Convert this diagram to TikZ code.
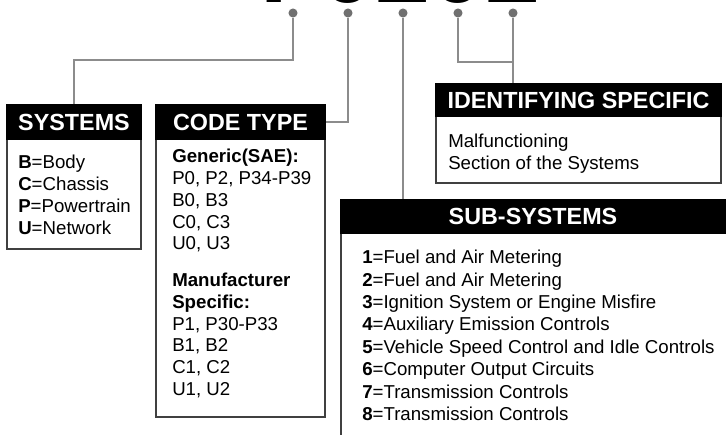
\documentclass[tikz,border=0pt]{standalone}
\usepackage{fontspec}
\setmainfont{Liberation Sans}
\usetikzlibrary{fit}
\definecolor{linegray}{RGB}{140,140,140}
\definecolor{dotgray}{RGB}{112,112,112}
\definecolor{framegray}{RGB}{64,64,64}
\tikzset{
  conn/.style={draw=linegray, line width=1.5pt},
  dotnode/.style={circle, fill=dotgray, inner sep=0pt, minimum size=6.8pt},
  frame/.style={draw=framegray, line width=1.1pt, inner sep=0pt, fill=white},
  headbar/.style={fill=black, draw=black, line width=1.1pt, inner sep=0pt},
  headtitle/.style={inner sep=0pt, text=white, font=\fontsize{17.5}{20}\selectfont\bfseries},
  bodytext/.style={anchor=north west, inner sep=0pt, align=left, font=\fontsize{14}{16.35}\selectfont},
  codechar/.style={anchor=base, inner sep=0pt, font=\fontsize{74}{80}\selectfont\bfseries},
}
\begin{document}
\begin{tikzpicture}[x=0.75pt,y=0.75pt,yscale=-1,xscale=1]
    \useasboundingbox (0,0) rectangle (726,435);
    % code characters, cut by the top edge, with their dots
    \foreach \ch/\cx [count=\i] in {P/293,0/348,2/403,0/458,2/513} {
      \node[codechar] (ch\i) at (\cx,2.5) {\ch};
      \node[dotnode] (d\i) at (\cx,13) {};
    }
    % Systems
    \node[frame, fit={(7,105) (141,249)}] (sysBox) {};
    \node[headbar, fit={(7,105) (141,139)}] (sysHead) {};
    \node[headtitle] (sysTitle) at (sysHead.center) {SYSTEMS};
    \node[bodytext] (sysText) at (18,155) {\textbf{B}=Body\\ \textbf{C}=Chassis\\ \textbf{P}=Powertrain\\ \textbf{U}=Network};
    % Code type
    \node[frame, fit={(156,105) (325,417)}] (codeBox) {};
    \node[headbar, fit={(156,105) (325,139)}] (codeHead) {};
    \node[headtitle] (codeTitle) at (codeHead.center) {CODE TYPE};
    \node[bodytext] (codeText) at (172,149) {\textbf{Generic(SAE):}\\ P0, P2, P34-P39\\ B0, B3\\ C0, C3\\ U0, U3\\[11pt] \textbf{Manufacturer}\\ \textbf{Specific:}\\ P1, P30-P33\\ B1, B2\\ C1, C2\\ U1, U2};
    % Identifying specific
    \node[frame, fit={(436,84) (721,183)}] (idBox) {};
    \node[headbar, fit={(436,84) (721,116)}] (idHead) {};
    \node[headtitle] (idTitle) at (idHead.center) {IDENTIFYING SPECIFIC};
    \node[bodytext] (idText) at (448,134) {Malfunctioning\\ Section of the Systems};
    % Sub-systems
    \node[frame, fit={(341,200) (730,445)}] (subBox) {};
    \node[headbar, fit={(341,200) (730,233)}] (subHead) {};
    \node[headtitle] (subTitle) at (533,216.5) {SUB-SYSTEMS};
    \node[bodytext, font=\fontsize{14}{16.8}\selectfont] (subText) at (362,250) {\textbf{1}=Fuel and Air Metering\\ \textbf{2}=Fuel and Air Metering\\ \textbf{3}=Ignition System or Engine Misfire\\ \textbf{4}=Auxiliary Emission Controls\\ \textbf{5}=Vehicle Speed Control and Idle Controls\\ \textbf{6}=Computer Output Circuits\\ \textbf{7}=Transmission Controls\\ \textbf{8}=Transmission Controls};
    % connectors
    \coordinate (sysBend) at (0,60);
    \coordinate (idBend) at (0,62);
    \draw[conn] (d1) -- (d1 |- sysBend) -| (sysHead.north);
    \draw[conn] (d2) |- (codeHead.east);
    \draw[conn] (d3) -- (d3 |- subHead.north);
    \draw[conn] (d4) |- (d5 |- idBend);
    \draw[conn] (d5) -- (d5 |- idHead.north);
\end{tikzpicture}
\end{document}
